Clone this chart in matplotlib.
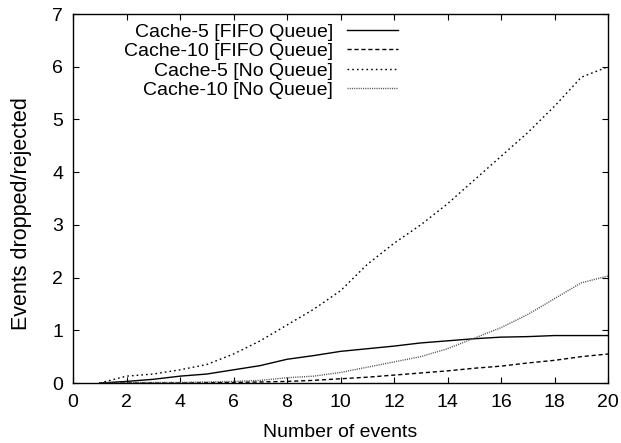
import matplotlib
matplotlib.use("Agg")
import matplotlib.pyplot as plt

plt.rcParams['font.family'] = ['Liberation Sans', 'DejaVu Sans']

events = list(range(1, 21))
cache5_fifo = [0, 0.03, 0.07, 0.13, 0.17, 0.25, 0.33, 0.45, 0.52, 0.6,
               0.65, 0.7, 0.76, 0.8, 0.84, 0.87, 0.88, 0.9, 0.9, 0.9]
cache10_fifo = [0, 0, 0, 0, 0.005, 0.01, 0.02, 0.03, 0.05, 0.08,
                0.11, 0.15, 0.19, 0.23, 0.28, 0.32, 0.38, 0.43, 0.5, 0.55]
cache5_noq = [0, 0.13, 0.17, 0.25, 0.35, 0.55, 0.8, 1.1, 1.4, 1.75,
              2.25, 2.65, 3.0, 3.4, 3.85, 4.3, 4.75, 5.25, 5.8, 6.0]
cache10_noq = [0, 0.01, 0.01, 0.01, 0.02, 0.03, 0.05, 0.1, 0.13, 0.2,
               0.3, 0.4, 0.5, 0.65, 0.85, 1.05, 1.3, 1.6, 1.9, 2.03]
labels = ['Cache-5 [FIFO Queue]', 'Cache-10 [FIFO Queue]',
          'Cache-5 [No Queue]', 'Cache-10 [No Queue]']
xticks = list(range(0, 21, 2))
yticks = list(range(0, 8))

FS = 14
fig = plt.figure(figsize=(6.21, 4.43), dpi=100)
ax = fig.add_axes([73/621, 60/443, 535/621, 369/443])

ax.plot(events, cache5_fifo, color='black', lw=1.0, label=labels[0])
ax.plot(events, cache10_fifo, color='black', lw=1.0, dashes=(3, 2), label=labels[1])
ax.plot(events, cache5_noq, color='black', lw=1.0, dashes=(1.2, 2.2), label=labels[2])
ax.plot(events, cache10_noq, color='#555555', lw=1.0, dashes=(0.8, 0.8), label=labels[3])

ax.set_xlim(0, 20)
ax.set_ylim(0, 7)
ax.set_xticks(xticks)
ax.set_yticks(yticks)
ax.tick_params(direction='in', top=True, right=True, length=4.5, width=0.8,
               labelsize=FS)
ax.tick_params(axis='x', pad=8)
ax.tick_params(axis='y', pad=7)
for s in ax.spines.values():
    s.set_linewidth(1.0)
ax.set_xlabel('Number of events', fontsize=FS, labelpad=9)
ax.set_ylabel('Events dropped/rejected', fontsize=15.5)
ax.yaxis.set_label_coords(-0.077, 0.46)

leg = fig.legend(loc='upper right', bbox_to_anchor=(398/621, 1 - 23/443),
                 bbox_transform=fig.transFigure, frameon=False,
                 markerfirst=False, fontsize=FS, handlelength=2.6,
                 handletextpad=0.75, labelspacing=0.1, borderaxespad=0,
                 borderpad=0)
for t in leg.get_texts():
    t.set_ha('right')
leg._legend_box.align = 'right'

fig.savefig('out.png', dpi=100)
